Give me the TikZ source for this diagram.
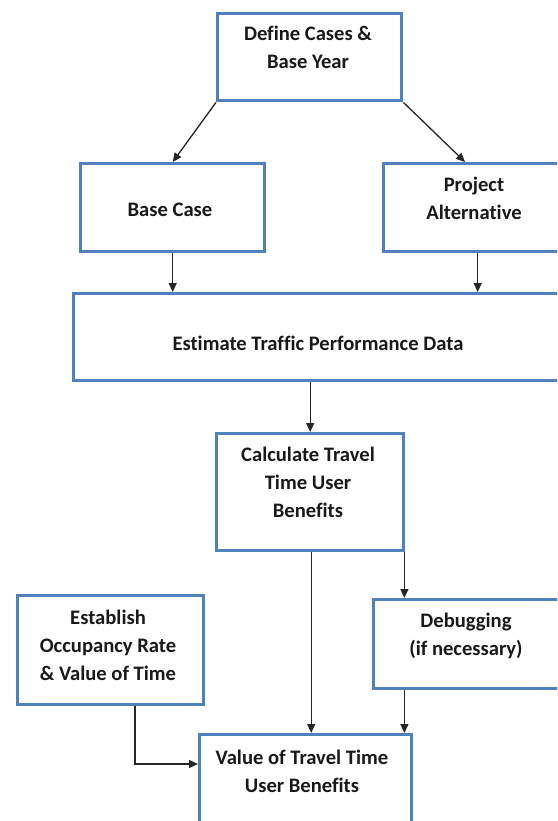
\documentclass[tikz,border=0pt]{standalone}
\usepackage{fontspec}
\setmainfont{Carlito}[Ligatures={NoCommon}]
\usetikzlibrary{arrows.meta,calc}
\definecolor{boxblue}{HTML}{4F81BD}
\tikzset{
  stepbox/.style={draw=boxblue, line width=3.4pt, fill=white, rectangle, inner sep=0pt, anchor=north west},
  steptext/.style={align=center, font=\fontsize{20.6}{28}\selectfont\bfseries, text=black!90, inner sep=0pt},
  arr/.style={draw=black!85, line width=1.3pt, -{Triangle[length=9pt,width=8pt]}}
}
\begin{document}
\begin{tikzpicture}[x=1pt,y=-1pt]
\useasboundingbox (0,0) rectangle (557,821);
\clip (0,0) rectangle (557,821);

% boxes
\node[stepbox, minimum width=184pt, minimum height=87pt]  (a) at (216,12)  {};
\node[stepbox, minimum width=184pt, minimum height=88pt]  (b) at (79,162)  {};
\node[stepbox, minimum width=188pt, minimum height=88pt]  (c) at (382,162) {};
\node[stepbox, minimum width=493pt, minimum height=87pt]  (d) at (72,292)  {};
\node[stepbox, minimum width=187pt, minimum height=117pt] (e) at (215,432) {};
\node[stepbox, minimum width=186pt, minimum height=109pt] (f) at (16,594)  {};
\node[stepbox, minimum width=188pt, minimum height=89pt]  (g) at (372,598) {};
\node[stepbox, minimum width=212pt, minimum height=117pt] (h) at (198,733) {};

% labels
\node[steptext] (ta) at (308,47)    {Define Cases \&\\Base Year};
\node[steptext] (tb) at (170,210)   {Base Case};
\node[steptext] (tc) at (474,198.5) {Project\\Alternative};
\node[steptext] (td) at (318,343)   {Estimate Traffic Performance Data};
\node[steptext] (te) at (308,482.5) {Calculate Travel\\Time User\\Benefits};
\node[steptext] (tf) at (108,645)   {Establish\\Occupancy Rate\\\& Value of Time};
\node[steptext] (tg) at (466,635.5) {Debugging\\(if necessary)};
\node[steptext] (th) at (302,771)   {Value of Travel Time\\User Benefits};

% connector end points
\coordinate (emid) at ($(e.south)+(1,0)$);
\coordinate (eright) at ($(e.south east)+(-1,0)$);
\coordinate (fdrop) at ($(f.south west)+(119,0)$);
\coordinate (hin) at ($(h.north west)+(0,31)$);
\coordinate (cin) at ($(c.north west)+(83,0)$);

% connectors
\draw[arr] (a.south west) -- (b.north);
\draw[arr] (a.south east) -- (cin);
\draw[arr] (b.south) -- (b.south |- d.north);
\draw[arr] (c.south) -- (c.south |- d.north);
\draw[arr] (e.north |- d.south) -- (e.north);
\draw[arr] (emid) -- (emid |- h.north);
\draw[arr] (eright) -- (eright |- g.north);
\draw[arr] (eright |- g.south) -- (eright |- h.north);
\draw[arr] (fdrop) |- (hin);
\end{tikzpicture}
\end{document}
